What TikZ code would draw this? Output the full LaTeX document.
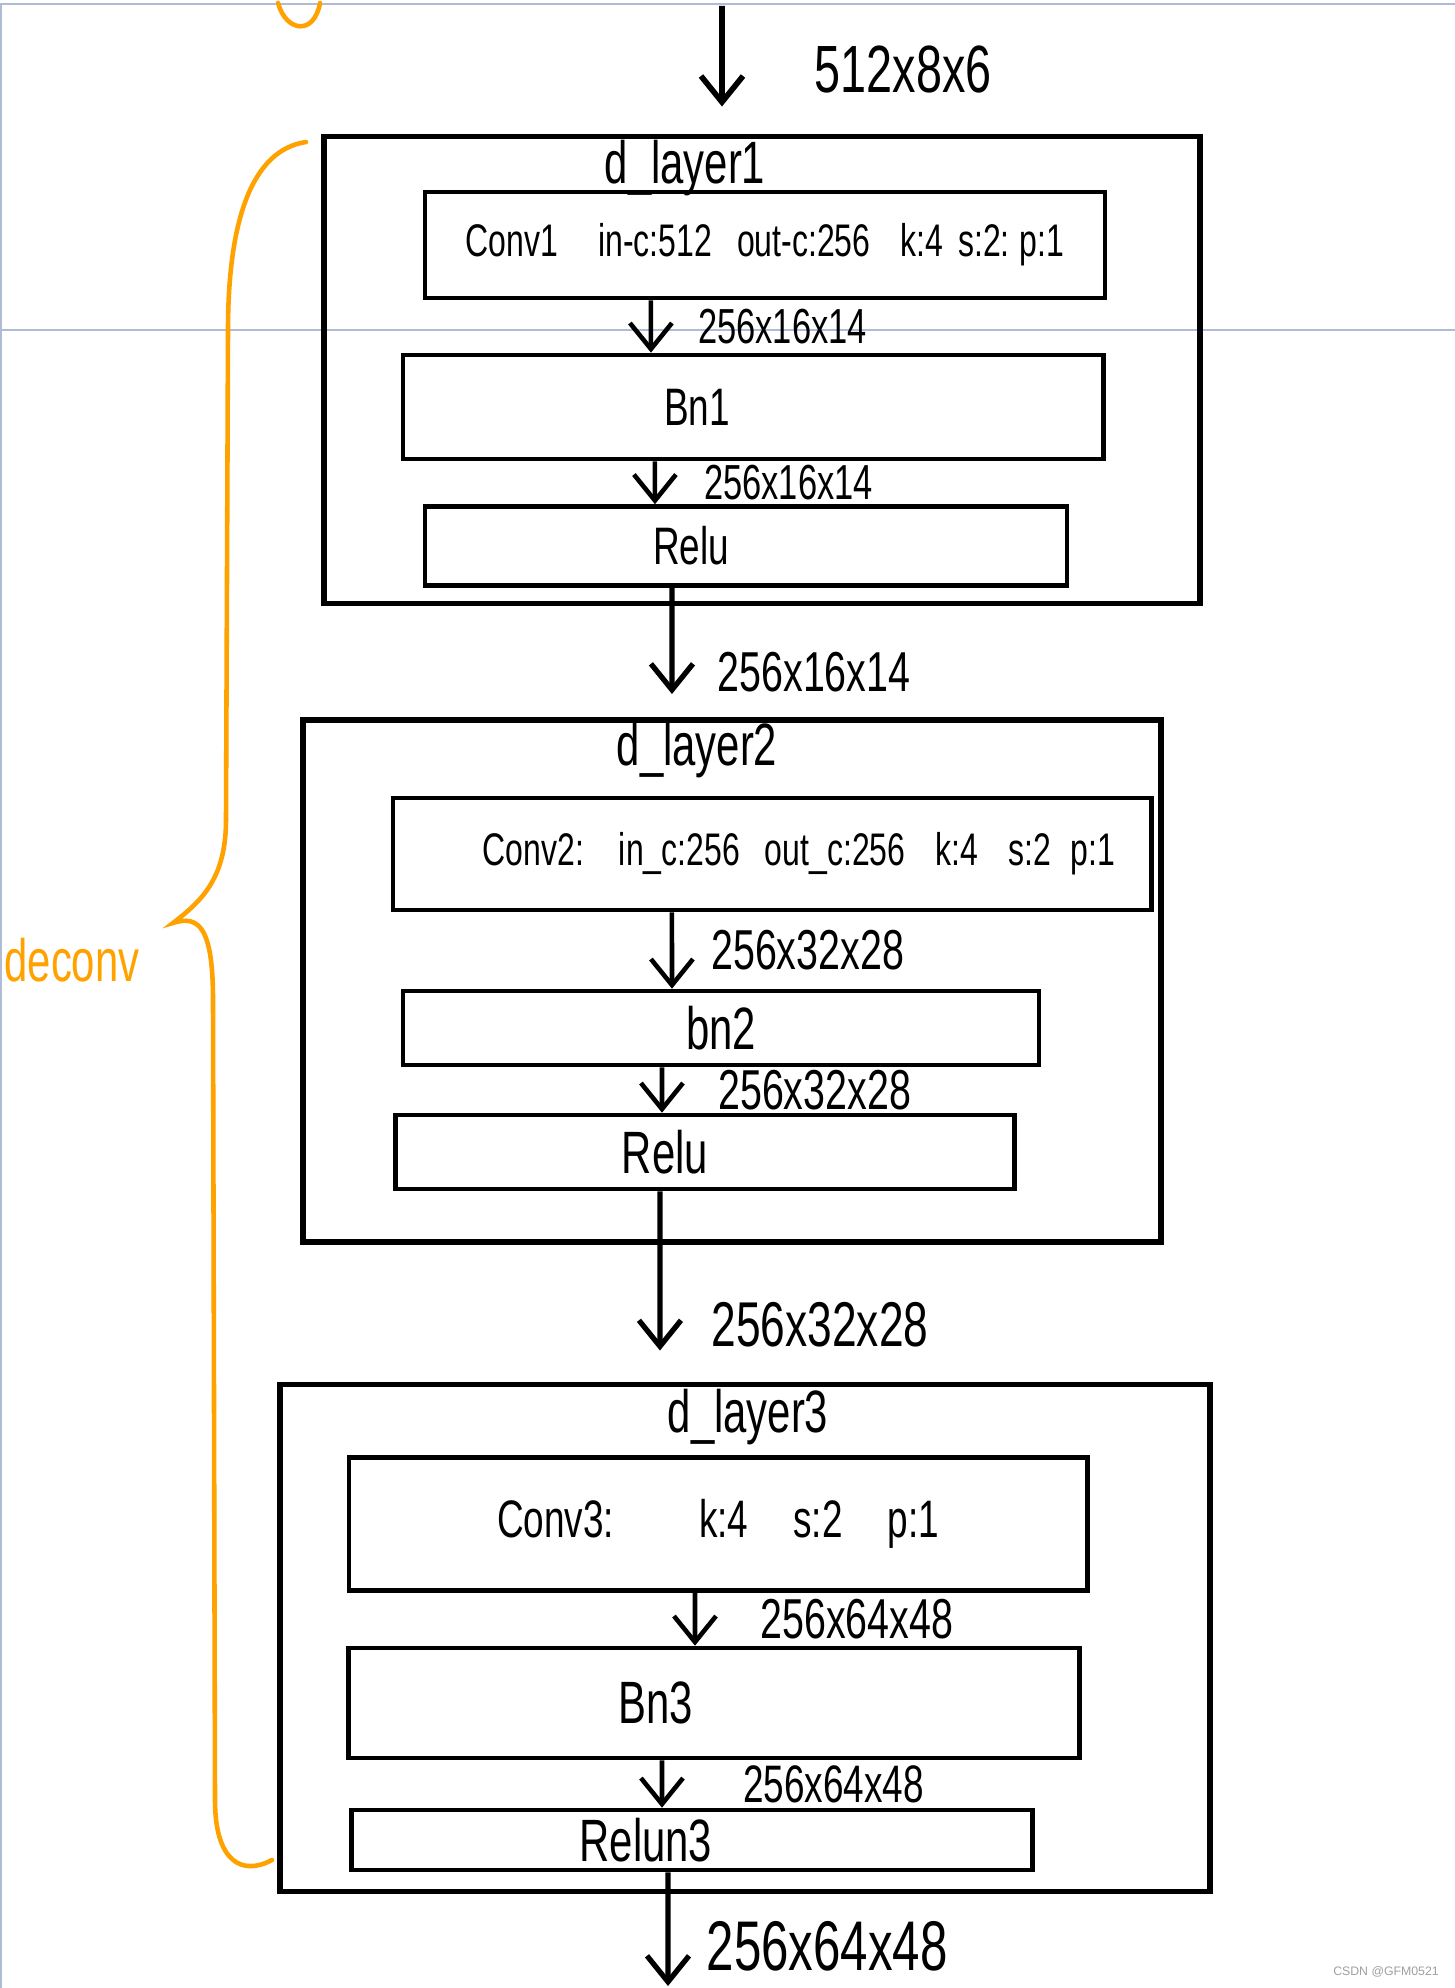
\documentclass[tikz,border=0pt]{standalone}
\usepackage{fontspec}
\setmainfont{Liberation Sans}[FakeStretch=0.7]
\newfontfamily\marksans{Liberation Sans}
\usepackage{tikz}
\usetikzlibrary{arrows.meta}
\definecolor{penorange}{HTML}{FFA200}
\definecolor{pagerule}{HTML}{AEBCD4}
\definecolor{markgray}{HTML}{A0A0A0}
\newcommand\pen[1]{\fontsize{#1}{#1}\selectfont}

\begin{document}
\begin{tikzpicture}[x=0.01cm,y=-0.01cm,
  layer/.style={draw,line width=1.6pt,rectangle,inner sep=0pt},
  op/.style={draw,line width=1.3pt,rectangle,inner sep=0pt},
  flow/.style={line width=1.3pt,-{Straight Barb[length=2.6mm,width=4.2mm]}},
  dimlab/.style={inner sep=0pt,anchor=west},
  title/.style={inner sep=0pt,font=\pen{17}},
  brace/.style={penorange,line width=1.3pt,line cap=round}]
  \useasboundingbox[fill=white] (0,0) rectangle (1455,1988);
  \draw[pagerule,line width=0.6pt] (0,4) -- (1455,4) (0,330) -- (1455,330) (1,4) -- (1,1988);

  % deconv brace
  \draw[brace] (278,3) .. controls (286,32) and (314,36) .. (320,3);
  \draw[brace] (306,142) .. controls (252,150) and (228,220) .. (228,330)
    -- (226,820) .. controls (226,880) and (200,902) .. (173,923)
    .. controls (200,914) and (213,930) .. (213,1000)
    -- (215,1800) .. controls (215,1862) and (242,1876) .. (272,1860);
  \node[penorange,font=\pen{17}] (deconv) at (72,960) {deconv};

  % layer 1
  \node[layer,minimum width=8.75cm,minimum height=4.67cm] (layer1) at (762,370) {};
  \node[title] (title1) at (685,168) {d\_layer1};
  \node[op,minimum width=6.8cm,minimum height=1.06cm,font=\pen{13}] (conv1) at (765,245)
    {Conv1\hspace{4mm}in-c:512\hspace{2.5mm}out-c:256\hspace{3mm}k:4\hspace{1.5mm}s:2:\hspace{1mm}p:1};
  \node[op,minimum width=7cm,minimum height=1.04cm,font=\pen{15}] (bn1) at (753,407) {Bn1\kern11.2mm};
  \node[op,minimum width=6.42cm,minimum height=0.79cm,font=\pen{15}] (relu1) at (746,546) {Relu\kern11mm};

  % layer 2
  \node[layer,minimum width=8.57cm,minimum height=5.22cm] (layer2) at (732,981) {};
  \node[title] (title2) at (697,750) {d\_layer2};
  \node[op,minimum width=7.58cm,minimum height=1.12cm,font=\pen{13}] (conv2) at (772,854)
    {\kern5.4mm Conv2:\hspace{3.5mm}in\_c:256\hspace{2.5mm}out\_c:256\hspace{3mm}k:4\hspace{3mm}s:2\hspace{2mm}p:1};
  \node[op,minimum width=6.36cm,minimum height=0.74cm,font=\pen{17}] (bn2) at (721,1028) {bn2};
  \node[op,minimum width=6.19cm,minimum height=0.74cm,font=\pen{17}] (relu2) at (705,1152) {Relu\kern8mm};

  % layer 3
  \node[layer,minimum width=9.3cm,minimum height=5.07cm] (layer3) at (745,1638) {};
  \node[title] (title3) at (748,1417) {d\_layer3};
  \node[op,minimum width=7.38cm,minimum height=1.33cm,font=\pen{15}] (conv3) at (718,1524)
    {Conv3:\hspace{8.5mm}k:4\hspace{4.5mm}s:2\hspace{4.5mm}p:1};
  \node[op,minimum width=7.31cm,minimum height=1.1cm,font=\pen{17}] (bn3) at (714,1703) {Bn3\kern11.6mm};
  \node[op,minimum width=6.81cm,minimum height=0.6cm,font=\pen{17}] (relu3) at (692,1840) {Relun3\kern9.2mm};

  \coordinate (in0) at (722,6);
  \coordinate (out0) at (668,1986);

  \draw[flow,line width=1.6pt,shorten >=2.7mm] (in0) -- ([xshift=-4mm]layer1.north)
    node[dimlab,midway,right=9mm,font=\pen{19}] {512x8x6};
  \draw[flow] ([xshift=-11.4mm]conv1.south) -- ([xshift=-10.2mm]bn1.north)
    node[dimlab,midway,right=4.5mm,font=\pen{14}] {256x16x14};
  \draw[flow] ([xshift=-9.8mm]bn1.south) -- ([xshift=-9.1mm]relu1.north)
    node[dimlab,midway,right=4.7mm,font=\pen{14}] {256x16x14};
  \draw[flow,line width=1.5pt,shorten >=2.3mm] ([xshift=-7.4mm]relu1.south) -- ([xshift=-6mm]layer2.north)
    node[dimlab,pos=0.65,right=4.3mm,font=\pen{16}] {256x16x14};

  \draw[flow] ([xshift=-10mm]conv2.south) -- ([xshift=-4.9mm]bn2.north)
    node[dimlab,midway,right=3.7mm,font=\pen{16}] {256x32x28};
  \draw[flow] ([xshift=-5.9mm]bn2.south) -- ([xshift=-4.3mm]relu2.north)
    node[dimlab,midway,right=5.4mm,font=\pen{16}] {256x32x28};
  \draw[flow,line width=1.5pt,shorten >=3.1mm] ([xshift=-4.5mm]relu2.south) -- ([xshift=-8.5mm]layer3.north)
    node[dimlab,pos=0.7,right=4.9mm,font=\pen{18}] {256x32x28};

  \draw[flow] ([xshift=-2.3mm]conv3.south) -- ([xshift=-1.9mm]bn3.north)
    node[dimlab,midway,right=6.3mm,font=\pen{16}] {256x64x48};
  \draw[flow] ([xshift=-5.2mm]bn3.south) -- ([xshift=-3mm]relu3.north)
    node[dimlab,midway,right=7.9mm,font=\pen{15}] {256x64x48};
  \draw[flow,line width=1.5pt] ([xshift=-2.4mm]relu3.south) -- (out0)
    node[dimlab,pos=0.65,right=3.6mm,font=\pen{20}] {256x64x48};

  \node[markgray,font=\marksans\fontsize{3.5}{4}\selectfont] (mark) at (1386,1972) {CSDN @GFM0521};
\end{tikzpicture}
\end{document}
